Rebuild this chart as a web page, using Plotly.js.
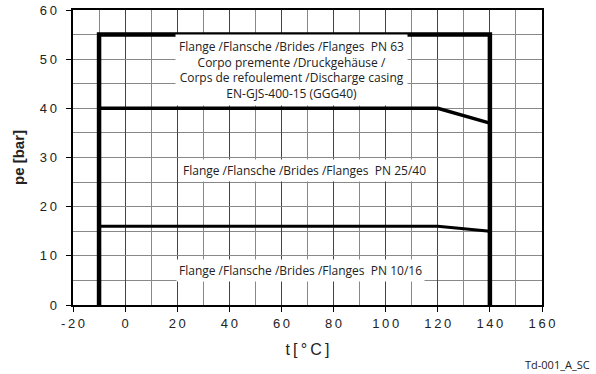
<!DOCTYPE html>
<html>
<head>
<meta charset="utf-8">
<script src="https://cdn.plot.ly/plotly-3.0.1.min.js"></script>
<style>html,body{margin:0;padding:0;background:#fff}#chart{width:596px;height:374px}</style>
</head>
<body>
<div id="chart"></div>
<script>
// Data
const envelopeT = [-10, -10, 140, 140];
const envelopeP = [0, 55, 55, 0];
const pn2540T = [-10, 120, 140];
const pn2540P = [40, 40, 37];
const pn1016T = [-10, 120, 140];
const pn1016P = [16, 16, 15];
const xTickVals = [-20, 0, 20, 40, 60, 80, 100, 120, 140, 160];
const xTickText = ['-\u20092\u20090', '0', '2\u20090', '4\u20090', '6\u20090', '8\u20090', '1\u20090\u20090', '1\u20092\u20090', '1\u20094\u20090', '1\u20096\u20090'];
const yTickVals = [0, 10, 20, 30, 40, 50, 60];
const yTickText = ['0\u2002', '1\u20090\u2002', '2\u20090\u2002', '3\u20090\u2002', '4\u20090\u2002', '5\u20090\u2002', '6\u20090\u2002'];
const labelPN63 = 'Flange /Flansche /Brides /Flanges \u00a0PN 63<br>Corpo premente /Druckgehäuse /<br>Corps de refoulement /Discharge casing<br>EN-GJS-400-15 (GGG40)';
const labelPN2540 = 'Flange /Flansche /Brides /Flanges \u00a0PN 25/40';
const labelPN1016 = 'Flange /Flansche /Brides /Flanges \u00a0PN 10/16';

const traces = [
  {x: envelopeT, y: envelopeP, mode: 'lines', line: {color: '#000', width: 4.5}, hoverinfo: 'skip'},
  {x: pn2540T, y: pn2540P, mode: 'lines', line: {color: '#000', width: 3.5}, hoverinfo: 'skip'},
  {x: pn1016T, y: pn1016P, mode: 'lines', line: {color: '#000', width: 3}, hoverinfo: 'skip'}
];

const annFont = {family: 'Open Sans, sans-serif', size: 12, color: '#222'};
const layout = {
  width: 596, height: 374,
  margin: {l: 73, r: 54, t: 10, b: 69},
  paper_bgcolor: '#fff', plot_bgcolor: '#fff',
  showlegend: false,
  font: {family: 'Liberation Sans, Arial, sans-serif', color: '#222'},
  xaxis: {
    range: [-20, 160], tickvals: xTickVals, ticktext: xTickText,
    ticks: 'outside', ticklen: 5, tickwidth: 1, tickcolor: '#000',
    showgrid: true, gridcolor: '#444', gridwidth: 1,
    minor: {dtick: 10, tick0: 0, showgrid: true, gridcolor: '#888', gridwidth: 1},
    showline: true, linecolor: '#000', linewidth: 2, mirror: true,
    zeroline: false, tickfont: {size: 13, color: '#222'},
    title: {text: 't\u2009[\u2009°\u2009C\u2009]', font: {size: 16, color: '#222'}, standoff: 14}
  },
  yaxis: {
    range: [0, 60], tickvals: yTickVals, ticktext: yTickText,
    ticks: 'outside', ticklen: 5, tickwidth: 1, tickcolor: '#000',
    showgrid: true, gridcolor: '#888', gridwidth: 1,
    minor: {dtick: 5, tick0: 0, showgrid: true, gridcolor: '#888', gridwidth: 1},
    showline: true, linecolor: '#000', linewidth: 2, mirror: true,
    zeroline: false, tickfont: {size: 13, color: '#222'},
    title: {text: '<b>pe [bar]</b>', font: {size: 15, color: '#222'}, standoff: 12}
  },
  annotations: [
    {x: 64, y: 47.8, xref: 'x', yref: 'y', text: labelPN63, showarrow: false, bgcolor: '#fff', borderpad: 3, font: annFont, align: 'center'},
    {x: 69, y: 27.3, xref: 'x', yref: 'y', text: labelPN2540, showarrow: false, bgcolor: '#fff', borderpad: 2, font: annFont},
    {x: 67.5, y: 7.1, xref: 'x', yref: 'y', text: labelPN1016, showarrow: false, bgcolor: '#fff', borderpad: 2, font: annFont},
    {x: 1, y: 0, xref: 'paper', yref: 'paper', xanchor: 'right', yanchor: 'middle', text: 'Td-001_A_SC', showarrow: false, font: {family: 'Open Sans, sans-serif', size: 11, color: '#222'}}
  ]
};
// place the footer label in pixel terms via paper coordinates
layout.annotations[3].x = (592 - 73) / 469;
layout.annotations[3].y = -(364 - 305) / 295;

Plotly.newPlot('chart', traces, layout, {staticPlot: true, displayModeBar: false});
</script>
</body>
</html>
